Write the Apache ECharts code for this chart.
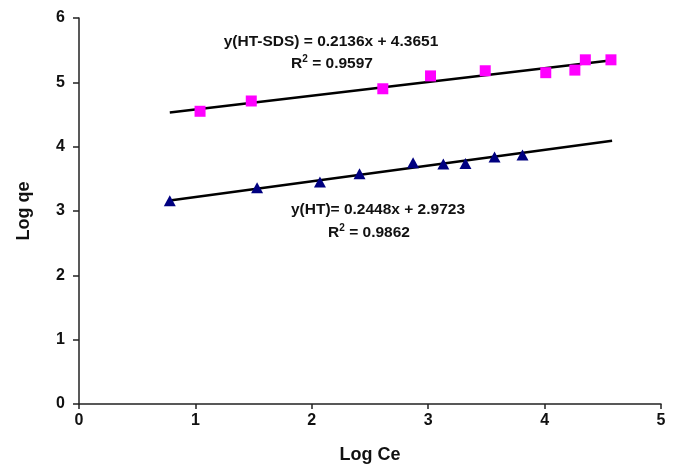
<!DOCTYPE html>
<html>
<head>
<meta charset="utf-8">
<script src="https://cdn.jsdelivr.net/npm/echarts@6/dist/echarts.min.js"></script>
<style>html,body{margin:0;padding:0;background:#fff}#c{width:680px;height:468px}</style>
</head>
<body>
<div id="c"></div>
<script>
var htSdsX = [1.04, 1.48, 2.61, 3.02, 3.49, 4.01, 4.26, 4.35, 4.57];
var htSdsY = [4.55, 4.71, 4.90, 5.10, 5.18, 5.15, 5.19, 5.35, 5.35];
var htX = [0.78, 1.53, 2.07, 2.41, 2.87, 3.13, 3.32, 3.57, 3.81];
var htY = [3.16, 3.36, 3.45, 3.58, 3.75, 3.73, 3.74, 3.84, 3.87];
var htSdsFit = {slope: 0.2136, intercept: 4.3651};
var htFit = {slope: 0.2448, intercept: 2.9723};
var trendRange = [0.78, 4.58];
var xTicks = [0, 1, 2, 3, 4, 5];
var yTicks = [0, 1, 2, 3, 4, 5, 6];
var eqHtSds = ['y(HT-SDS) = 0.2136x + 4.3651', 'R{sup|2} = 0.9597'];
var eqHt = ['y(HT)= 0.2448x + 2.9723', 'R{sup|2} = 0.9862'];

function pairs(xs, ys) { return xs.map(function (x, i) { return [x, ys[i]]; }); }
function fitLine(f) { return trendRange.map(function (x) { return [x, f.slope * x + f.intercept]; }); }

var font = 'Liberation Sans, Arial, sans-serif';
var eqFont = 'bold 15.5px ' + font;
function eqText(x, y, txt) {
  return {type: 'text', style: {x: x, y: y, text: txt, font: eqFont, fill: '#111',
    align: 'center', verticalAlign: 'middle',
    rich: {sup: {font: 'bold 10px ' + font, fill: '#111', verticalAlign: 'top', padding: [0, 0, 9, 0]}}}};
}
var chart = echarts.init(document.getElementById('c'));
chart.setOption({
  animation: false,
  backgroundColor: '#fff',
  grid: {left: 79, right: 19, top: 18, bottom: 64, containLabel: false, outerBoundsMode: 'none'},
  xAxis: {
    type: 'value', min: 0, max: 5, interval: 1,
    name: 'Log Ce', nameLocation: 'middle', nameGap: 42,
    nameTextStyle: {fontFamily: font, fontWeight: 'bold', fontSize: 18, color: '#111'},
    axisLine: {show: true, lineStyle: {color: '#222', width: 1.5}},
    axisTick: {show: true, inside: false, length: 5, lineStyle: {color: '#222', width: 1.5}},
    axisLabel: {fontFamily: font, fontWeight: 'bold', fontSize: 16, color: '#111', margin: 9,
      formatter: function (v) { return xTicks.indexOf(v) >= 0 ? String(v) : ''; }},
    splitLine: {show: false}
  },
  yAxis: {
    type: 'value', min: 0, max: 6, interval: 1,
    name: 'Log qe', nameLocation: 'middle', nameGap: 46, nameRotate: 90,
    nameTextStyle: {fontFamily: font, fontWeight: 'bold', fontSize: 18, color: '#111'},
    axisLine: {show: true, lineStyle: {color: '#222', width: 1.5}},
    axisTick: {show: true, inside: false, length: 6, lineStyle: {color: '#222', width: 1.5}},
    axisLabel: {fontFamily: font, fontWeight: 'bold', fontSize: 16, color: '#111', margin: 14,
      formatter: function (v) { return yTicks.indexOf(v) >= 0 ? String(v) : ''; }},
    splitLine: {show: false}
  },
  series: [
    {type: 'line', data: fitLine(htSdsFit), symbol: 'none', lineStyle: {color: '#000', width: 2.5}, z: 2},
    {type: 'line', data: fitLine(htFit), symbol: 'none', lineStyle: {color: '#000', width: 2.5}, z: 2},
    {type: 'scatter', data: pairs(htSdsX, htSdsY), symbol: 'rect', symbolSize: 11,
      itemStyle: {color: '#FF00FF', opacity: 1}, z: 3},
    {type: 'scatter', data: pairs(htX, htY), symbol: 'triangle', symbolSize: [12, 11],
      itemStyle: {color: '#000080', opacity: 1}, z: 3}
  ],
  graphic: [
    eqText(331, 42, eqHtSds[0]),
    eqText(332, 64, eqHtSds[1]),
    eqText(378, 210, eqHt[0]),
    eqText(369, 233, eqHt[1])
  ]
});
</script>
</body>
</html>
